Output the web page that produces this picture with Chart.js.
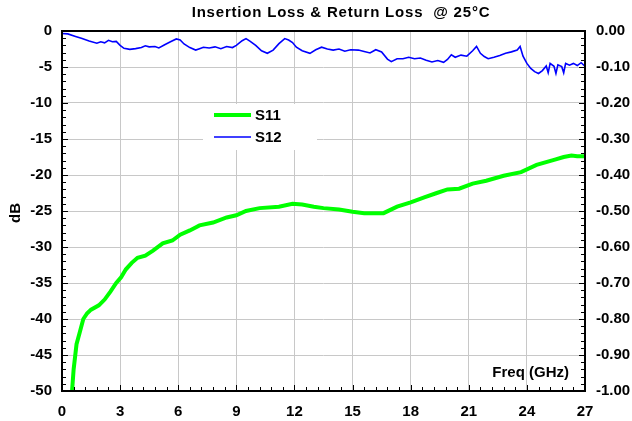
<!DOCTYPE html>
<html>
<head>
<meta charset="utf-8">
<script src="https://cdn.jsdelivr.net/npm/chart.js@4/dist/chart.umd.min.js"></script>
<style>
  body { margin: 0; background: #fff; }
  canvas { display: block; }
</style>
</head>
<body>
<canvas id="chart" width="632" height="421"></canvas>
<script>
// S11 return loss (dB, left axis)
const s11Freq = [0.52, 0.6, 0.75, 0.9, 1.1, 1.3, 1.5, 1.9, 2.2, 2.5, 2.8, 3.05, 3.3, 3.6, 3.9, 4.3, 4.7, 5.2, 5.7, 6.1,
  6.6, 7.1, 7.8, 8.5, 9.0, 9.5, 10.2, 11.2, 11.9, 12.4, 13.0, 13.5, 14.3, 15.0, 15.6, 16.6, 17.3, 18.0, 18.7, 19.35,
  19.9, 20.5, 21.2, 21.9, 22.8, 23.7, 24.5, 25.4, 25.9, 26.3, 26.6, 27.0];
const s11Db = [-50, -47, -43.5, -42, -40, -39.2, -38.7, -38.1, -37.3, -36.2, -35.0, -34.2, -33.1, -32.2, -31.5, -31.2, -30.5, -29.5, -29.1, -28.3,
  -27.7, -27.0, -26.6, -25.9, -25.6, -25.0, -24.6, -24.4, -24.0, -24.1, -24.4, -24.6, -24.8, -25.1, -25.3, -25.3, -24.4, -23.8, -23.1, -22.5,
  -22.0, -21.9, -21.2, -20.8, -20.1, -19.6, -18.6, -17.9, -17.5, -17.3, -17.4, -17.4];

// S12 insertion loss (dB, right axis)
const s12Freq = [0.0, 0.3, 0.7, 1.0, 1.4, 1.8, 2.0, 2.2, 2.4, 2.6, 2.8, 3.0, 3.2, 3.5, 3.8, 4.1, 4.3, 4.5, 4.8, 5.0,
  5.3, 5.6, 5.9, 6.1, 6.3, 6.6, 6.9, 7.1, 7.3, 7.6, 7.9, 8.2, 8.5, 8.8, 9.0, 9.3, 9.5, 9.7, 10.0, 10.3,
  10.6, 10.9, 11.2, 11.5, 11.7, 11.9, 12.1, 12.4, 12.8, 13.1, 13.4, 13.7, 14.0, 14.3, 14.6, 14.9, 15.3, 15.6, 15.9, 16.2,
  16.5, 16.8, 17.0, 17.3, 17.6, 17.9, 18.2, 18.5, 18.8, 19.1, 19.4, 19.7, 19.9, 20.1, 20.3, 20.6, 20.9, 21.2, 21.4, 21.6,
  21.8, 22.0, 22.3, 22.6, 22.9, 23.2, 23.5, 23.65, 23.8, 24.0, 24.2, 24.4, 24.6, 24.8, 25.0, 25.1, 25.2, 25.4, 25.5, 25.6,
  25.8, 25.9, 26.0, 26.2, 26.4, 26.6, 26.8, 27.0];
const s12Db = [-0.007, -0.008, -0.015, -0.020, -0.028, -0.034, -0.030, -0.033, -0.026, -0.030, -0.029, -0.040, -0.048, -0.051, -0.049, -0.046, -0.041, -0.044, -0.043, -0.047,
  -0.038, -0.030, -0.022, -0.025, -0.036, -0.046, -0.053, -0.049, -0.045, -0.047, -0.044, -0.049, -0.043, -0.046, -0.040, -0.027, -0.021, -0.028, -0.040, -0.055,
  -0.062, -0.053, -0.035, -0.021, -0.025, -0.032, -0.045, -0.055, -0.062, -0.052, -0.045, -0.050, -0.053, -0.050, -0.056, -0.052, -0.053, -0.057, -0.061, -0.052,
  -0.058, -0.078, -0.085, -0.077, -0.077, -0.073, -0.077, -0.075, -0.081, -0.086, -0.082, -0.087, -0.079, -0.066, -0.073, -0.067, -0.070, -0.055, -0.043, -0.062,
  -0.071, -0.077, -0.073, -0.068, -0.062, -0.058, -0.053, -0.043, -0.070, -0.090, -0.104, -0.113, -0.118, -0.110, -0.097, -0.116, -0.090, -0.098, -0.118, -0.094,
  -0.099, -0.116, -0.090, -0.095, -0.090, -0.096, -0.088, -0.098];

const legendItems = ['S11', 'S12'];
const FONT = 'Liberation Sans, Arial, sans-serif';

// frame, inward ticks, titles and legend
const decorPlugin = {
  id: 'decor',
  afterDraw(chart) {
    const ctx = chart.ctx;
    const a = chart.chartArea;
    const sx = chart.scales.x, sy = chart.scales.y, sy1 = chart.scales.y1;
    ctx.save();
    ctx.strokeStyle = '#000';
    ctx.lineWidth = 1;
    ctx.beginPath();
    // x ticks every 0.6 GHz
    for (let i = 0; i <= 45; i++) {
      const px = Math.round(sx.getPixelForValue(i * 0.6)) + 0.5;
      const len = i % 5 === 0 ? 6 : 4;
      ctx.moveTo(px, a.bottom); ctx.lineTo(px, a.bottom - len);
    }
    // left ticks every 1 dB
    for (let v = 0; v >= -50; v--) {
      const py = Math.round(sy.getPixelForValue(v)) + 0.5;
      const len = v % 5 === 0 ? 6 : 4;
      ctx.moveTo(a.left, py); ctx.lineTo(a.left + len, py);
    }
    // right ticks every 0.02
    for (let i = 0; i <= 50; i++) {
      const py = Math.round(sy1.getPixelForValue(-i * 0.02)) + 0.5;
      const len = i % 5 === 0 ? 6 : 4;
      ctx.moveTo(a.right, py); ctx.lineTo(a.right - len, py);
    }
    ctx.stroke();
    ctx.lineWidth = 2;
    ctx.strokeRect(a.left, a.top, a.right - a.left, a.bottom - a.top);

    ctx.fillStyle = '#000';
    ctx.font = 'bold 15px ' + FONT;
    ctx.textBaseline = 'middle';

    // title
    ctx.textAlign = 'center';
    ctx.letterSpacing = '0.8px';
    ctx.fillText('Insertion Loss & Return Loss  @ 25°C', 341, 13);
    ctx.letterSpacing = '0px';

    ctx.textAlign = 'right';
    ctx.fillText('Freq (GHz)', 569, 373);

    // y axis title
    ctx.save();
    ctx.translate(16, 213);
    ctx.rotate(-Math.PI / 2);
    ctx.textAlign = 'center';
    ctx.fillText('dB', 0, 0);
    ctx.restore();

    // legend
    ctx.fillStyle = '#fff';
    ctx.fillRect(203, 104, 114, 46);
    const colors = ['#00ff00', '#0000ff'];
    const widths = [4, 1.5];
    const ys = [115, 137];
    legendItems.forEach((name, i) => {
      ctx.strokeStyle = colors[i];
      ctx.lineWidth = widths[i];
      ctx.beginPath();
      ctx.moveTo(214, ys[i]); ctx.lineTo(251, ys[i]);
      ctx.stroke();
      ctx.fillStyle = '#000';
      ctx.textAlign = 'left';
      ctx.fillText(name, 255, ys[i] + 1);
    });
    ctx.restore();
  }
};

new Chart(document.getElementById('chart').getContext('2d'), {
  type: 'line',
  data: {
    datasets: [{
      label: legendItems[0],
      data: s11Freq.map((f, i) => ({ x: f, y: s11Db[i] })),
      borderColor: '#00ff00',
      borderWidth: 4,
      pointRadius: 0,
      tension: 0,
      yAxisID: 'y'
    }, {
      label: legendItems[1],
      data: s12Freq.map((f, i) => ({ x: f, y: s12Db[i] })),
      borderColor: '#0000ff',
      borderWidth: 1.6,
      pointRadius: 0,
      tension: 0,
      yAxisID: 'y1'
    }]
  },
  options: {
    responsive: false,
    animation: false,
    layout: { padding: { top: 31 } },
    plugins: {
      legend: { display: false },
      tooltip: { enabled: false },
      title: { display: false }
    },
    scales: {
      x: {
        type: 'linear',
        min: 0, max: 27,
        grid: { color: '#c8c8c8', drawTicks: false },
        border: { display: false },
        ticks: { stepSize: 3, color: '#000', padding: 12, font: { family: FONT, size: 15, weight: 'bold' } },
        afterFit(scale) { scale.height = 30; }
      },
      y: {
        position: 'left',
        min: -50, max: 0,
        grid: { color: '#c8c8c8', drawTicks: false },
        border: { display: false },
        ticks: { stepSize: 5, color: '#000', padding: 10, font: { family: FONT, size: 15, weight: 'bold' } },
        afterFit(scale) { scale.width = 62; }
      },
      y1: {
        position: 'right',
        min: -1, max: 0,
        grid: { display: false, drawTicks: false },
        border: { display: false },
        ticks: { stepSize: 0.1, color: '#000', padding: 11, font: { family: FONT, size: 15, weight: 'bold' },
          callback: v => v.toFixed(2) },
        afterFit(scale) { scale.width = 47; }
      }
    }
  },
  plugins: [decorPlugin]
});
</script>
</body>
</html>
